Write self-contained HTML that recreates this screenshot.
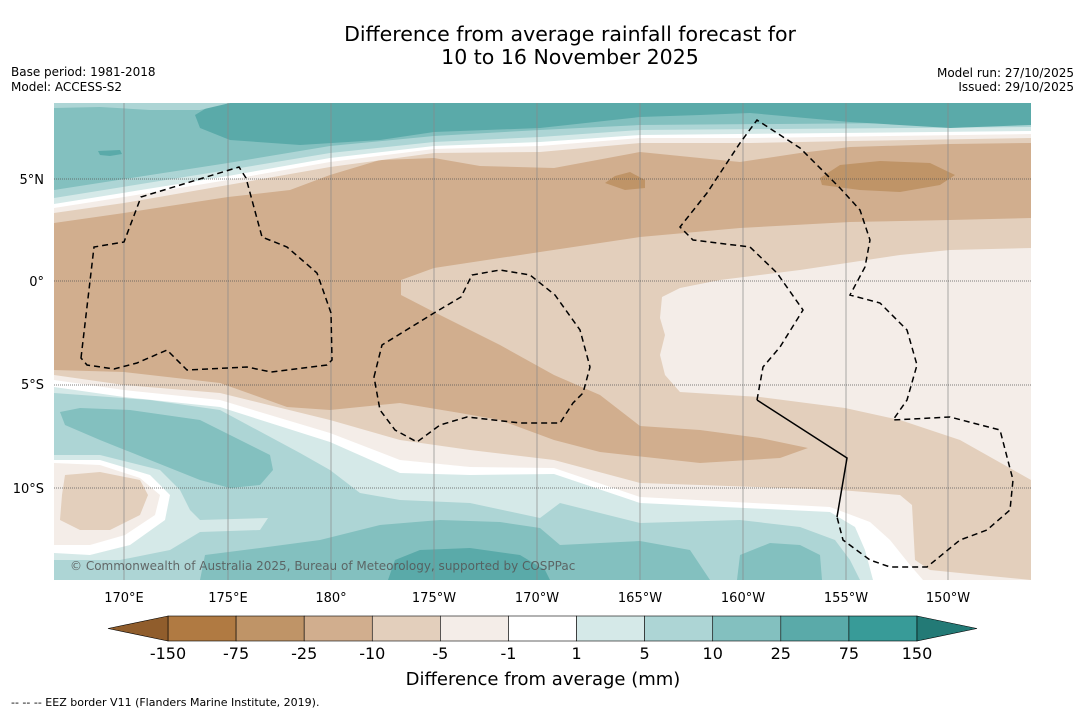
<!DOCTYPE html>
<html><head><meta charset="utf-8">
<style>
body{margin:0;background:#fff;width:1085px;height:713px;overflow:hidden;font-family:"DejaVu Sans","Liberation Sans",sans-serif;}
svg{position:absolute;left:0;top:0;font-family:"DejaVu Sans","Liberation Sans",sans-serif;}
</style></head><body>
<svg width="1085" height="713" viewBox="0 0 1085 713">
<text x="570" y="41" font-size="20.5" text-anchor="middle" fill="#000">Difference from average rainfall forecast for</text>
<text x="570" y="64" font-size="20.5" text-anchor="middle" fill="#000">10 to 16 November 2025</text>
<text x="11" y="76" font-size="12">Base period: 1981-2018</text>
<text x="11" y="91" font-size="12">Model: ACCESS-S2</text>
<text x="1074" y="77" font-size="12" text-anchor="end">Model run: 27/10/2025</text>
<text x="1074" y="91" font-size="12" text-anchor="end">Issued: 29/10/2025</text>

<defs><clipPath id="pc"><rect x="54" y="103" width="977" height="477"/></clipPath></defs>
<g clip-path="url(#pc)">
<rect x="54" y="103" width="977" height="477" fill="#e3cfbc"/>
<polygon fill="#d1ae8e" points="54,223 124,213 228,197 290,190 330,175 380,160 434,158 480,166 554,168 640,152 700,158 740,162 800,153 850,147 950,144 1031,143 1031,218 950,220 850,222 740,228 640,237 540,252 434,268 401,280 401,295 434,312 500,345 554,375 600,395 640,426 700,430 760,438 808,448 780,458 700,463 600,452 554,440 500,420 460,413 400,403 330,410 287,407 220,383 124,372 54,370"/>
<polygon fill="#bf9467" points="605,183 615,176 630,172 645,180 645,188 625,190"/>
<polygon fill="#bf9467" points="820,178 840,165 880,161 930,163 955,175 940,185 900,192 860,190 822,185"/>
<polygon fill="#f4ede8" points="662,297 680,288 720,280 800,270 900,255 950,250 1031,248 1031,480 960,440 900,420 845,408 760,397 680,392 665,375 660,355 665,335 660,318"/>
<polygon fill="#f4ede8" points="54,103 1031,103 1031,138 850,141 750,143 640,143 540,152 434,153 330,167 228,185 124,203 54,213"/>
<polygon fill="#ffffff" points="54,103 1031,103 1031,134 750,138 640,138 540,146 434,149 330,162 228,180 124,197 54,208"/>
<polygon fill="#d5e9e8" points="54,103 1031,103 1031,131 640,135 540,142 434,146 330,158 228,176 54,204"/>
<polygon fill="#add5d5" points="54,103 1031,103 1031,127 640,130 540,137 434,142 330,153 228,170 54,198"/>
<polygon fill="#83c0bf" points="54,103 1031,103 1031,122 640,125 540,130 434,136 330,146 228,163 54,190"/>
<polygon fill="#5aaaa9" points="230,103 1031,103 1031,125 950,128 850,122 750,113 700,115 640,117 540,128 434,132 380,140 300,145 230,140 200,128 195,115 210,106"/>
<polygon fill="#add5d5" points="54,103 230,103 200,110 150,110 100,107 54,108"/>
<polygon fill="#5aaaa9" points="98,151 120,150 122,154 110,156 100,155"/>

<polygon fill="#f4ede8" points="54,375 124,385 220,393 330,420 400,440 470,450 554,460 640,483 700,485 840,490 900,495 912,505 915,560 930,570 980,575 1031,580 54,580"/>
<polygon fill="#ffffff" points="54,380 124,390 220,400 330,433 400,460 470,467 554,468 640,497 830,507 870,522 890,540 910,565 923,580 54,580"/>
<polygon fill="#d5e9e8" points="54,387 124,397 220,407 330,442 400,473 470,475 554,474 640,503 830,512 855,527 865,550 873,580 54,580"/>
<polygon fill="#add5d5" points="54,393 150,400 220,410 300,453 330,470 360,493 400,500 470,503 540,518 560,503 640,523 740,520 800,527 835,540 850,560 860,580 54,580"/>
<polygon fill="#83c0bf" points="60,412 80,408 130,410 200,420 240,440 270,455 273,470 260,485 230,488 200,480 150,460 100,440 65,425"/>
<polygon fill="#d5e9e8" points="54,455 100,455 160,470 180,490 190,510 200,520 268,518 260,530 200,532 170,550 120,560 54,560"/>
<polygon fill="#ffffff" points="54,460 100,460 150,475 170,495 165,520 130,545 90,555 54,553"/>
<polygon fill="#f4ede8" points="54,463 100,465 140,478 160,495 155,515 125,535 90,545 54,545"/>
<polygon fill="#e3cfbc" points="65,475 100,472 140,480 148,495 140,515 110,530 80,530 60,520 62,495"/>
<polygon fill="#83c0bf" points="200,580 205,555 260,548 320,540 380,525 440,520 500,522 540,528 560,545 600,543 640,541 690,550 710,580"/>
<polygon fill="#83c0bf" points="737,580 740,555 770,543 800,545 820,555 822,580"/>
<polygon fill="#5aaaa9" points="388,580 395,560 420,550 470,548 520,555 545,570 550,580"/>

<g stroke="#888" stroke-width="0.7">
<line x1="124" y1="103" x2="124" y2="580"/><line x1="228" y1="103" x2="228" y2="580"/><line x1="331" y1="103" x2="331" y2="580"/><line x1="434" y1="103" x2="434" y2="580"/><line x1="537" y1="103" x2="537" y2="580"/><line x1="640" y1="103" x2="640" y2="580"/><line x1="743" y1="103" x2="743" y2="580"/><line x1="846" y1="103" x2="846" y2="580"/><line x1="948" y1="103" x2="948" y2="580"/>
</g>
<g stroke="#555" stroke-width="0.7" stroke-dasharray="1,1">
<line x1="54" y1="179" x2="1031" y2="179"/><line x1="54" y1="281" x2="1031" y2="281"/><line x1="54" y1="385" x2="1031" y2="385"/><line x1="54" y1="488" x2="1031" y2="488"/>
</g>
<g fill="none" stroke="#000" stroke-width="1.5" stroke-dasharray="6,4">
<polygon points="81,358 94,247 124,242 141,197 239,167 246,178 262,237 287,247 317,273 331,313 332,360 327,365 271,372 247,367 187,370 167,350 137,363 114,369 87,365"/>
<polygon points="374,377 382,345 434,313 461,297 472,275 500,270 530,275 555,295 580,330 590,367 583,393 573,403 560,423 520,423 467,417 440,425 417,442 395,430 380,410"/>
<polyline points="757,400 763,367 780,347 803,310 777,273 750,247 693,240 680,227 707,193 740,143 757,120 800,148 840,188 860,210 870,240 865,267 850,295 880,303 907,330 917,365 907,400 893,420 950,417 1000,430 1013,480 1010,510 987,530 960,540 927,567 890,567 870,560 843,540 837,517"/>
</g>
<polyline fill="none" stroke="#000" stroke-width="1.5" points="757,400 847,458 837,517"/>
<text x="70" y="570" font-size="12" fill="#555" fill-opacity="0.85">© Commonwealth of Australia 2025, Bureau of Meteorology, supported by COSPPac</text>
</g>

<g font-size="13" text-anchor="middle">
<text x="124" y="602">170°E</text><text x="228" y="602">175°E</text><text x="331" y="602">180°</text><text x="434" y="602">175°W</text><text x="537" y="602">170°W</text><text x="640" y="602">165°W</text><text x="743" y="602">160°W</text><text x="846" y="602">155°W</text><text x="948" y="602">150°W</text>
</g>
<g font-size="13" text-anchor="end">
<text x="44" y="184">5°N</text><text x="44" y="286">0°</text><text x="44" y="389">5°S</text><text x="44" y="493">10°S</text>
</g>
<g id="cbar"></g>
<text x="543" y="685" font-size="18" text-anchor="middle">Difference from average (mm)</text>
<text x="11" y="706" font-size="11">--  --  -- EEZ border V11 (Flanders Marine Institute, 2019).</text>
</svg>
<script>
const cbTicks = ["-150","-75","-25","-10","-5","-1","1","5","10","25","75","150"];
const cbColors = ["#b07a42","#bf9467","#d1ae8e","#e3cfbc","#f4ede8","#ffffff","#d5e9e8","#add5d5","#83c0bf","#5aaaa9","#389b98"];
const cbExtend = ["#905d2c","#237a76"];
const NS="http://www.w3.org/2000/svg";
const g=document.getElementById('cbar');
const x0=168,x1=917,y0=616,h=25;
const w=(x1-x0)/cbColors.length;
function tickX(i){return x0+i*w;}
cbColors.forEach((c,i)=>{
  const r=document.createElementNS(NS,'rect');
  r.setAttribute('x',tickX(i));r.setAttribute('y',y0);r.setAttribute('width',w);r.setAttribute('height',h);
  r.setAttribute('fill',c);r.setAttribute('stroke','#000');r.setAttribute('stroke-width','0.6');
  
  
  g.appendChild(r);
});
[[x0,x0-60,0],[x1,x1+60,1]].forEach(([a,b,k])=>{
  const p=document.createElementNS(NS,'polygon');
  p.setAttribute('points',`${a},${y0} ${b},${y0+h/2} ${a},${y0+h}`);
  p.setAttribute('fill',cbExtend[k]);p.setAttribute('stroke','#000');p.setAttribute('stroke-width','0.6');
  
  
  g.appendChild(p);
});
cbTicks.forEach((t,i)=>{
  const tx=document.createElementNS(NS,'text');
  tx.setAttribute('x',tickX(i));tx.setAttribute('y',659);tx.setAttribute('font-size','16');tx.setAttribute('text-anchor','middle');
  tx.textContent=t;
  
  
  g.appendChild(tx);
});
</script>
</body></html>
